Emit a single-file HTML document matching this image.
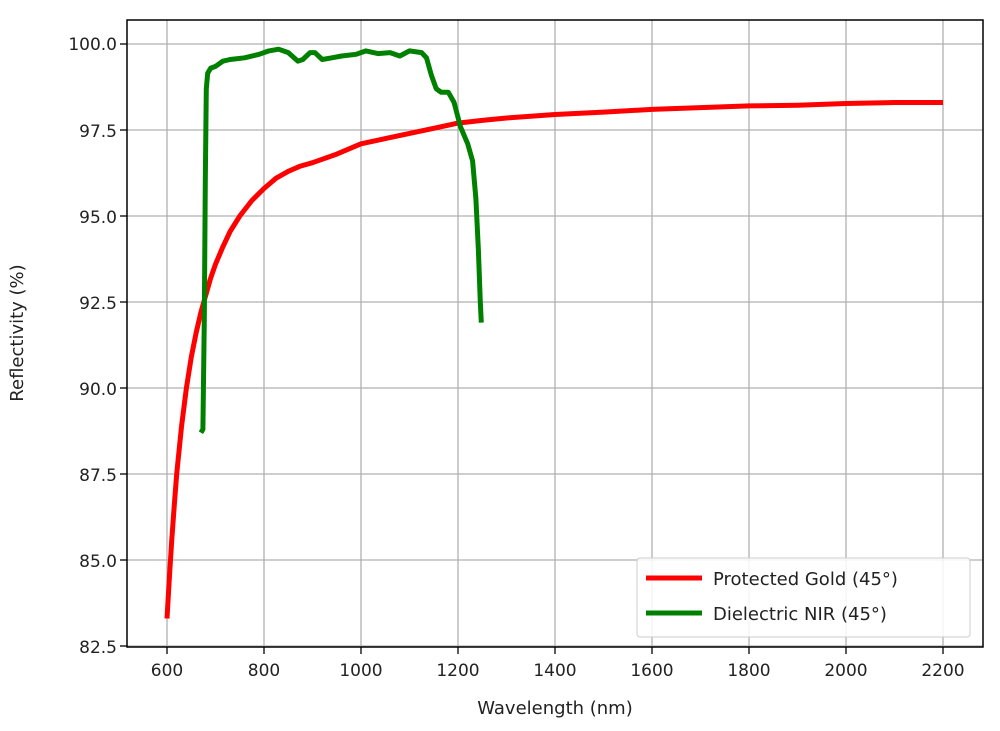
<!DOCTYPE html><html><head><style>body{margin:0;background:#fff}svg{display:block}text{font-family:"DejaVu Sans","Liberation Sans",sans-serif;fill:#222}</style></head><body>
<svg id="s" width="1000" height="731" xmlns="http://www.w3.org/2000/svg">
<g id="grid" stroke="#b0b0b0" stroke-width="1.3"></g>
<g id="ticks" stroke="#000" stroke-width="1.3"></g>
<g font-size="17" text-anchor="middle">
<text x="167" y="676">600</text><text x="264" y="676">800</text><text x="361" y="676">1000</text><text x="458" y="676">1200</text><text x="555" y="676">1400</text><text x="652" y="676">1600</text><text x="749" y="676">1800</text><text x="846" y="676">2000</text><text x="943" y="676">2200</text>
</g>
<g font-size="17" text-anchor="end">
<text x="117" y="50">100.0</text><text x="117" y="137">97.5</text><text x="117" y="223">95.0</text><text x="117" y="309">92.5</text><text x="117" y="395">90.0</text><text x="117" y="481">87.5</text><text x="117" y="567">85.0</text><text x="117" y="653">82.5</text>
</g>
<text x="555" y="714" font-size="18" text-anchor="middle">Wavelength (nm)</text>
<text transform="translate(23,333) rotate(-90)" font-size="18" text-anchor="middle">Reflectivity (%)</text>
<path id="red" fill="none" stroke="#ff0000" stroke-width="5" stroke-linejoin="round"/>
<path id="green" fill="none" stroke="#008000" stroke-width="5" stroke-linejoin="round"/>
<rect x="127" y="20" width="856" height="627" fill="none" stroke="#000" stroke-width="1.5"/>
<rect x="637" y="558" width="333" height="79" rx="3" fill="#fff" fill-opacity="0.85" stroke="#ccc"/>
<line x1="646" y1="578" x2="702" y2="578" stroke="#ff0000" stroke-width="5"/>
<line x1="646" y1="613" x2="702" y2="613" stroke="#008000" stroke-width="5"/>
<text x="713" y="585" font-size="18">Protected Gold (45°)</text>
<text x="713" y="620" font-size="18">Dielectric NIR (45°)</text>
</svg>
<script>
const X=v=>167+(v-600)*0.485, Y=r=>44+(100-r)*34.4;
let g='',t='';
for(let v=600;v<=2200;v+=200){const x=X(v);g+=`<line x1="${x}" y1="20" x2="${x}" y2="647"/>`;t+=`<line x1="${x}" y1="647" x2="${x}" y2="654"/>`;}
for(let i=0;i<8;i++){const y=Y(100-2.5*i);g+=`<line x1="127" y1="${y}" x2="983" y2="${y}"/>`;t+=`<line x1="120" y1="${y}" x2="127" y2="${y}"/>`;}
document.getElementById('grid').innerHTML=g;document.getElementById('ticks').innerHTML=t;
const P=a=>'M'+a.map(p=>X(p[0]).toFixed(1)+','+Y(p[1]).toFixed(1)).join(' L');
const red=[[600,83.3],[605,84.5],[610,85.6],[615,86.6],[620,87.5],[630,88.9],[640,90],[650,90.9],[660,91.6],[670,92.2],[680,92.7],[690,93.2],[700,93.6],[715,94.1],[730,94.55],[750,95],[775,95.45],[800,95.8],[825,96.1],[850,96.3],[875,96.45],[900,96.55],[950,96.8],[1000,97.1],[1050,97.25],[1100,97.4],[1150,97.55],[1200,97.7],[1250,97.78],[1300,97.85],[1400,97.95],[1500,98.02],[1600,98.1],[1700,98.15],[1800,98.2],[1900,98.22],[2000,98.27],[2100,98.3],[2200,98.3]];
const green=[[670,88.7],[674,88.8],[677,92],[679,96],[681,98.7],[684,99.15],[690,99.3],[700,99.35],[715,99.5],[730,99.55],[760,99.6],[790,99.7],[810,99.8],[830,99.85],[850,99.75],[870,99.5],[880,99.55],[895,99.75],[905,99.75],[920,99.55],[940,99.6],[960,99.65],[990,99.7],[1010,99.8],[1035,99.72],[1060,99.75],[1080,99.65],[1100,99.8],[1125,99.75],[1135,99.6],[1145,99.1],[1155,98.7],[1165,98.6],[1180,98.6],[1192,98.3],[1205,97.6],[1220,97.1],[1230,96.6],[1237,95.5],[1242,94],[1246,92.5],[1248,91.9]];
document.getElementById('red').setAttribute('d',P(red));
document.getElementById('green').setAttribute('d',P(green));
</script>
</body></html>
